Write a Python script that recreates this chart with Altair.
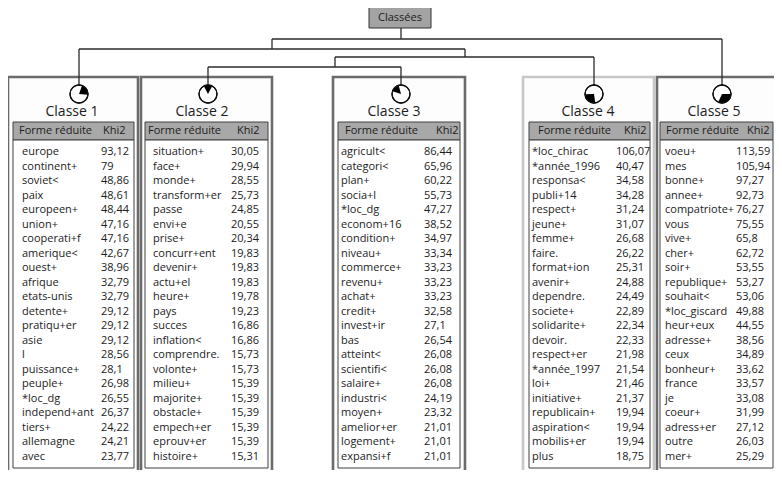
import math
import altair as alt
import pandas as pd

# ---------------- data ----------------
root_label = "Classées"
classes = ["Classe 1", "Classe 2", "Classe 3", "Classe 4", "Classe 5"]
header_labels = ["Forme réduite", "Khi2"]

forms1 = ["europe", "continent+", "soviet<", "paix", "europeen+", "union+", "cooperati+f",
          "amerique<", "ouest+", "afrique", "etats-unis", "detente+", "pratiqu+er", "asie",
          "l", "puissance+", "peuple+", "*loc_dg", "independ+ant", "tiers+", "allemagne", "avec"]
khi1 = [93.12, 79, 48.86, 48.61, 48.44, 47.16, 47.16, 42.67, 38.96, 32.79, 32.79, 29.12,
        29.12, 29.12, 28.56, 28.1, 26.98, 26.55, 26.37, 24.22, 24.21, 23.77]

forms2 = ["situation+", "face+", "monde+", "transform+er", "passe", "envi+e", "prise+",
          "concurr+ent", "devenir+", "actu+el", "heure+", "pays", "succes", "inflation<",
          "comprendre.", "volonte+", "milieu+", "majorite+", "obstacle+", "empech+er",
          "eprouv+er", "histoire+"]
khi2 = [30.05, 29.94, 28.55, 25.73, 24.85, 20.55, 20.34, 19.83, 19.83, 19.83, 19.78, 19.23,
        16.86, 16.86, 15.73, 15.73, 15.39, 15.39, 15.39, 15.39, 15.39, 15.31]

forms3 = ["agricult<", "categori<", "plan+", "socia+l", "*loc_dg", "econom+16", "condition+",
          "niveau+", "commerce+", "revenu+", "achat+", "credit+", "invest+ir", "bas",
          "atteint<", "scientifi<", "salaire+", "industri<", "moyen+", "amelior+er",
          "logement+", "expansi+f"]
khi3 = [86.44, 65.96, 60.22, 55.73, 47.27, 38.52, 34.97, 33.34, 33.23, 33.23, 33.23, 32.58,
        27.1, 26.54, 26.08, 26.08, 26.08, 24.19, 23.32, 21.01, 21.01, 21.01]

forms4 = ["*loc_chirac", "*année_1996", "responsa<", "publi+14", "respect+", "jeune+",
          "femme+", "faire.", "format+ion", "avenir+", "dependre.", "societe+",
          "solidarite+", "devoir.", "respect+er", "*année_1997", "loi+", "initiative+",
          "republicain+", "aspiration<", "mobilis+er", "plus"]
khi4 = [106.07, 40.47, 34.58, 34.28, 31.24, 31.07, 26.68, 26.22, 25.31, 24.88, 24.49, 22.89,
        22.34, 22.33, 21.98, 21.54, 21.46, 21.37, 19.94, 19.94, 19.94, 18.75]

forms5 = ["voeu+", "mes", "bonne+", "annee+", "compatriote+", "vous", "vive+", "cher+",
          "soir+", "republique+", "souhait<", "*loc_giscard", "heur+eux", "adresse+", "ceux",
          "bonheur+", "france", "je", "coeur+", "adress+er", "outre", "mer+"]
khi5 = [113.59, 105.94, 97.27, 92.73, 76.27, 75.55, 65.8, 62.72, 53.55, 53.27, 53.06, 49.88,
        44.55, 38.56, 34.89, 33.62, 33.57, 33.08, 31.99, 27.12, 26.03, 25.29]

# class-size pie wedges (degrees, clockwise from 12 o'clock)
pie_start_deg = [20, 332, 288, 172, 90]
pie_end_deg = [95, 388, 345, 268, 205]

all_forms = [forms1, forms2, forms3, forms4, forms5]
all_khi = [khi1, khi2, khi3, khi4, khi5]


def fmt(v):
    return str(v).replace(".", ",")


# ---------------- layout (page pixel coordinates) ----------------
W, H = 766, 462
OX, OY = 8, 8
panel_x0 = [8, 141, 333, 523, 657]
panel_x1 = [138, 272, 465, 654, 792]
panel_col = ["#6b6b6b", "#6b6b6b", "#6b6b6b", "#c8c8c8", "#6b6b6b"]
body_x0 = [13, 145, 338, 529, 660]
body_x1 = [134, 268, 460, 650, 773]
text_x = [22, 153, 341, 532, 665]
val_x = [101, 231, 424, 616, 736]
hdr_form_x = [19, 148, 345, 538, 666]
hdr_khi_x = [103, 237, 436, 624, 747]
label_cx = [72, 202, 394, 588, 714]
pie_cx = [79, 208, 401, 594, 722]
PANEL_TOP, PANEL_BOTTOM = 77, 500
PIE_CY, PIE_R = 94, 9
LABEL_Y = 112
HDR_Y0, HDR_Y1 = 122, 140
BODY_Y1 = 468
ROW_Y0, ROW_DY = 152, 14.5
ROOT = (369, 7, 431, 28)

segments = [
    (401, 28, 401, 39), (272, 39, 722, 39), (272, 39, 272, 49),
    (79, 49, 465, 49), (79, 49, 79, PIE_CY - PIE_R),
    (465, 49, 465, 57), (335, 57, 594, 57), (335, 57, 335, 67),
    (208, 67, 401, 67), (208, 67, 208, PIE_CY - PIE_R), (401, 67, 401, PIE_CY - PIE_R),
    (594, 57, 594, PIE_CY - PIE_R), (722, 39, 722, PIE_CY - PIE_R),
]

# ---------------- tables ----------------
panels = pd.DataFrame({"x0": panel_x0, "x1": panel_x1, "y0": PANEL_TOP, "y1": PANEL_BOTTOM,
                       "col": panel_col})
headers = pd.DataFrame({"x0": body_x0, "x1": body_x1, "y0": HDR_Y0, "y1": HDR_Y1})
bodies = pd.DataFrame({"x0": body_x0, "x1": body_x1, "y0": HDR_Y1, "y1": BODY_Y1})
root = pd.DataFrame({"x0": [ROOT[0]], "x1": [ROOT[2]], "y0": [ROOT[1]], "y1": [ROOT[3]],
                     "cx": [(ROOT[0] + ROOT[2]) / 2], "cy": [(ROOT[1] + ROOT[3]) / 2 + 0.5],
                     "t": [root_label]})
segs = pd.DataFrame(segments, columns=["x0", "y0", "x1", "y1"])

rows = []
for p in range(5):
    for i, (f, k) in enumerate(zip(all_forms[p], all_khi[p])):
        y = ROW_Y0 + i * ROW_DY
        rows.append({"x": text_x[p], "y": y, "t": f})
        rows.append({"x": val_x[p], "y": y, "t": fmt(k)})
rows = pd.DataFrame(rows)

hdr_txt = []
for p in range(5):
    cy = (HDR_Y0 + HDR_Y1) / 2
    hdr_txt.append({"x": hdr_form_x[p], "y": cy, "t": header_labels[0]})
    hdr_txt.append({"x": hdr_khi_x[p], "y": cy, "t": header_labels[1]})
hdr_txt = pd.DataFrame(hdr_txt)

labels = pd.DataFrame({"x": label_cx, "y": LABEL_Y, "t": classes})
pies = pd.DataFrame({"x": pie_cx, "y": PIE_CY,
                     "a0": [math.radians(a) for a in pie_start_deg],
                     "a1": [math.radians(a) for a in pie_end_deg],
                     "f0": 0.0, "f1": 2 * math.pi})

# ---------------- chart ----------------
xs = alt.Scale(domain=[OX, OX + W], range=[0, W], nice=False, zero=False)
ys = alt.Scale(domain=[OY, OY + H], range=[0, H], nice=False, zero=False)


def X(f):
    return alt.X(f, type="quantitative", scale=xs, axis=None)


def Y(f):
    return alt.Y(f, type="quantitative", scale=ys, axis=None)


def box(df, **mk):
    return alt.Chart(df).mark_rect(clip=True, **mk).encode(
        x=X("x0"), x2=alt.X2("x1"), y=Y("y0"), y2=alt.Y2("y1"))


FONT = "Open Sans"
TXT = "#1c1c1c"

panel_layer = alt.Chart(panels).mark_rect(clip=True, fill="#fdfdfd", strokeWidth=2.6).encode(
    x=X("x0"), x2=alt.X2("x1"), y=Y("y0"), y2=alt.Y2("y1"),
    stroke=alt.Stroke("col:N", scale=None))
header_layer = box(headers, fill="#a8a8a8", stroke="#404040", strokeWidth=1)
body_layer = box(bodies, fill="#ffffff", stroke="#404040", strokeWidth=1)
root_layer = box(root, fill="#a3a3a3", stroke="#333333", strokeWidth=1)

rule_layer = alt.Chart(segs).mark_rule(color="#2b2b2b", strokeWidth=1.3).encode(
    x=X("x0"), y=Y("y0"), x2=alt.X2("x1"), y2=alt.Y2("y1"))

pie_bg = alt.Chart(pies).mark_arc(radius=PIE_R, fill="#ffffff", stroke="#111111",
                                  strokeWidth=1.3).encode(
    x=X("x"), y=Y("y"), theta=alt.Theta("f0:Q", scale=None), theta2=alt.Theta2("f1"))
pie_fg = alt.Chart(pies).mark_arc(radius=PIE_R, fill="#000000").encode(
    x=X("x"), y=Y("y"), theta=alt.Theta("a0:Q", scale=None), theta2=alt.Theta2("a1"))
pie_ring = alt.Chart(pies).mark_arc(radius=PIE_R, fillOpacity=0, stroke="#111111",
                                    strokeWidth=1.3).encode(
    x=X("x"), y=Y("y"), theta=alt.Theta("f0:Q", scale=None), theta2=alt.Theta2("f1"))

row_layer = alt.Chart(rows).mark_text(align="left", baseline="middle", font=FONT,
                                      fontSize=11, color=TXT).encode(
    x=X("x"), y=Y("y"), text="t:N")
hdr_layer = alt.Chart(hdr_txt).mark_text(align="left", baseline="middle", font=FONT,
                                         fontSize=11, color=TXT).encode(
    x=X("x"), y=Y("y"), text="t:N")
label_layer = alt.Chart(labels).mark_text(align="center", baseline="middle", font=FONT,
                                          fontSize=14, color=TXT).encode(
    x=X("x"), y=Y("y"), text="t:N")
root_txt = alt.Chart(root).mark_text(align="center", baseline="middle", font=FONT,
                                     fontSize=11, color=TXT).encode(
    x=X("cx"), y=Y("cy"), text="t:N")

chart = alt.layer(
    panel_layer, header_layer, body_layer, root_layer, rule_layer,
    pie_bg, pie_fg, pie_ring, row_layer, hdr_layer, label_layer, root_txt,
).properties(
    width=W, height=H, padding=0, autosize=alt.AutoSizeParams(type="none"),
    background="#ffffff",
).configure_view(stroke=None)

chart.save("out.html", embed_options={"renderer": "svg", "actions": False})
